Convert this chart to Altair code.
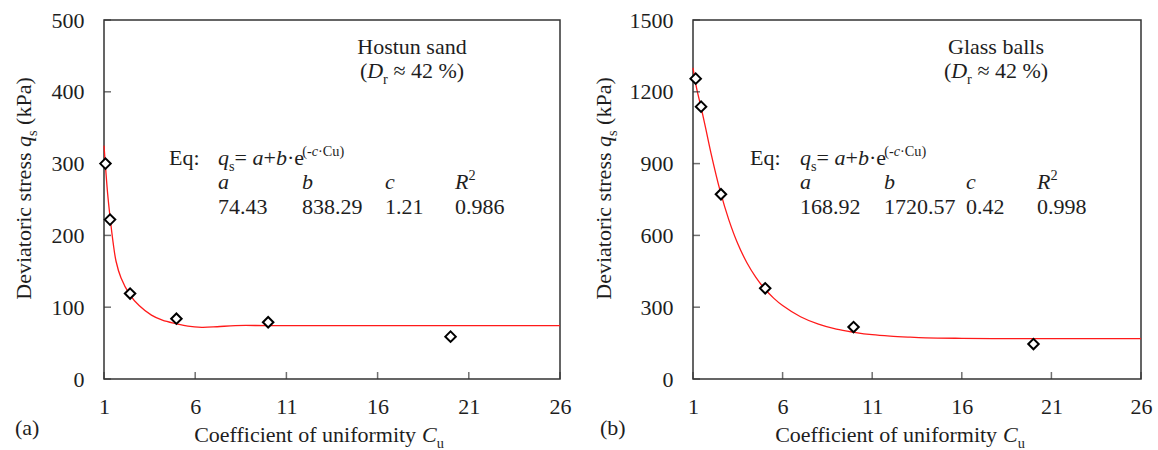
import altair as alt
import pandas as pd

# ---------------- data ----------------
cu_hostun = [1.08, 1.33, 2.43, 4.97, 10.0, 20.0]
qs_hostun = [300, 222, 119, 84, 79, 59]
fit_cu_hostun = [1.0, 1.1, 1.2, 1.33, 1.5, 1.66, 1.93, 2.4, 2.94, 3.6, 4.2, 4.95,
                 5.6, 6.36, 7.2, 8.2, 10.0, 14.0, 20.0, 26.0]
fit_qs_hostun = [325, 290, 258, 226, 190, 164, 141, 118, 102, 89, 82, 77,
                 73.5, 72, 72.8, 74.4, 74.4, 74.4, 74.4, 74.4]

cu_glass = [1.15, 1.45, 2.56, 5.03, 9.96, 20.0]
qs_glass = [1255, 1138, 772, 379, 217, 146]
fit_cu_glass = [1.0, 1.2, 1.45, 1.7, 2.0, 2.5, 3.0, 3.5, 4.0, 4.5, 5.0, 5.5, 6.0,
                7.0, 8.0, 9.0, 10.0, 11.0, 12.0, 13.0, 14.0, 16.0, 18.0, 20.0, 26.0]
fit_qs_glass = [1300, 1215, 1135, 1050, 945, 790, 665, 565, 487, 426, 377, 338, 307,
                260, 229, 208, 195, 185, 179, 175, 172, 170, 169, 169, 169]

x_ticks = [1, 6, 11, 16, 21, 26]
y_ticks_hostun = [0, 100, 200, 300, 400, 500]
y_ticks_glass = [0, 300, 600, 900, 1200, 1500]
params_hostun = ["74.43", "838.29", "1.21", "0.986"]
params_glass = ["168.92", "1720.57", "0.42", "0.998"]

# ---------------- style ----------------
FONT = "Liberation Serif"
INK = "#1e1e1e"
FRAME = "#333333"
BASE = 22
H = 359

EM = {" ": .25, "(": .333, ")": .333, "-": .333, ".": .25, "=": .564, "+": .564,
      "\u00b7": .25, "\u2248": .548, "%": .833, ":": .278,
      "a": .444, "b": .5, "c": .444, "d": .5, "e": .444, "f": .333, "i": .278,
      "k": .5, "l": .278, "m": .778, "n": .5, "o": .5, "r": .333, "s": .389,
      "t": .278, "u": .5, "v": .5, "y": .5, "q": .5,
      "C": .667, "D": .722, "E": .611, "G": .722, "H": .722, "P": .556, "R": .667}
EM_I = {"a": .5, "b": .5, "c": .444, "q": .5, "C": .667, "D": .722, "R": .611}


def tw(s, size, italic):
    t = EM_I if italic else EM
    return sum(t.get(ch, EM.get(ch, .5)) for ch in s) * size


def rich(pieces, x, y, ox, oy, align="left", angle=0):
    """pieces: (text, kind); kind letters: i=italic, b=subscript, p=superscript"""
    specs = []
    for t, kind in pieces:
        italic = "i" in kind
        small = ("b" in kind) or ("p" in kind)
        size = BASE * 0.65 if small else BASE
        shift = BASE * 0.25 if "b" in kind else (-BASE * 0.42 if "p" in kind else 0)
        specs.append((t, italic, size, shift))
    total = sum(tw(t, s, it) for t, it, s, _ in specs)
    layers = []
    off = 0.0
    if angle == 0:
        start = x - (total / 2 if align == "center" else (total if align == "right" else 0))
    else:
        start = y + (total / 2 if align == "center" else 0)
    for t, italic, size, shift in specs:
        lead = len(t) - len(t.lstrip(" "))
        pos = off + tw(" " * lead, size, False)
        off += tw(t, size, italic)
        if angle == 0:
            px, py = start + pos, y + shift
        else:
            px, py = x + shift, start - pos
        kw = dict(align="left", baseline="alphabetic", font=FONT, fontSize=size, color=INK)
        if italic:
            kw["fontStyle"] = "italic"
        if angle:
            kw["angle"] = angle
        layers.append(
            alt.Chart(pd.DataFrame({"t": [t.strip(" ")]}))
            .mark_text(**kw)
            .encode(text="t:N", x=alt.value(px - ox), y=alt.value(py - oy))
        )
    return layers


def panel(cu, qs, fcu, fqs, yt, width, ox, name, params, tag, pos):
    oy = 19
    xs = alt.Scale(domain=[1, 26], nice=False, zero=False)
    ys = alt.Scale(domain=[0, yt[-1]], nice=False)
    xa = alt.Axis(values=x_ticks, title=None, ticks=False, domain=False, grid=False,
                  labelFont=FONT, labelFontSize=BASE, labelColor=INK, labelPadding=34,
                  labelBaseline="alphabetic", labelFlush=False, labelAngle=0)
    ya = alt.Axis(values=yt, title=None, ticks=False, domain=False, grid=False,
                  labelFont=FONT, labelFontSize=BASE, labelColor=INK, labelPadding=20,
                  format="d", labelFlush=False)

    def X():
        return alt.X("cu:Q", scale=xs, axis=xa)

    def Y():
        return alt.Y("qs:Q", scale=ys, axis=ya)

    line = alt.Chart(pd.DataFrame({"cu": fcu, "qs": fqs})).mark_line(
        color="#ff1a1a", strokeWidth=1.3, interpolate="catmull-rom").encode(x=X(), y=Y())
    pts = alt.Chart(pd.DataFrame({"cu": cu, "qs": qs})).mark_point(
        shape="diamond", size=110, filled=True, fill="white", stroke="black",
        strokeWidth=2, opacity=1).encode(x=X(), y=Y())
    xt = alt.Chart(pd.DataFrame({"cu": x_ticks})).mark_tick(
        orient="vertical", size=7, thickness=1.5, color=FRAME, yOffset=-3.5
    ).encode(x=X(), y=alt.value(H))
    ytk = alt.Chart(pd.DataFrame({"qs": yt})).mark_tick(
        orient="horizontal", size=7, thickness=1.5, color=FRAME, xOffset=3.5
    ).encode(y=Y(), x=alt.value(0))

    layers = [line, xt, ytk, pts]
    layers += rich([(name, "n")], pos["cx"], 53, ox, oy, align="center")
    layers += rich([("(", "n"), ("D", "i"), ("r", "b"), (" \u2248 42 %)", "n")],
                   pos["cx"], 77, ox, oy, align="center")
    layers += rich([("Eq:", "n")], pos["eq"], 164, ox, oy)
    layers += rich([("q", "i"), ("s", "b"), ("= ", "n"), ("a", "i"), ("+", "n"),
                    ("b", "i"), ("\u00b7e", "n"), ("(-", "p"), ("c", "ip"), ("\u00b7Cu)", "p")],
                   pos["cols"][0], 164, ox, oy)
    heads = [[("a", "i")], [("b", "i")], [("c", "i")], [("R", "i"), ("2", "p")]]
    for c, h, v in zip(pos["cols"], heads, params):
        layers += rich(h, c, 188, ox, oy)
        layers += rich([(v, "n")], c, 213, ox, oy)
    layers += rich([("Deviatoric stress ", "n"), ("q", "i"), ("s", "b"), (" (kPa)", "n")],
                   pos["yt"], 187.5, ox, oy, align="center", angle=270)
    layers += rich([("Coefficient of uniformity ", "n"), ("C", "i"), ("u", "b")],
                   pos["xt"], 441, ox, oy, align="center")
    layers += rich([(tag, "n")], pos["tag"], 434, ox, oy)
    return alt.layer(*layers).properties(width=width, height=H)


left = panel(cu_hostun, qs_hostun, fit_cu_hostun, fit_qs_hostun, y_ticks_hostun, 456, 103,
             "Hostun sand", params_hostun, "(a)",
             dict(cx=411, eq=168, cols=[217, 301, 384, 454], yt=30, xt=318, tag=14))
right = panel(cu_glass, qs_glass, fit_cu_glass, fit_qs_glass, y_ticks_glass, 448, 692,
              "Glass balls", params_glass, "(b)",
              dict(cx=995, eq=749, cols=[799, 883, 965, 1036], yt=610, xt=899, tag=599))

chart = alt.hconcat(left, right, spacing=133, bounds="flush").properties(
    padding={"left": 12, "top": 8, "right": 0, "bottom": 0},
    background="white",
).configure(font=FONT).configure_view(stroke=FRAME, strokeWidth=1.5)

chart.save("out.html", embed_options={"renderer": "svg", "actions": False})
